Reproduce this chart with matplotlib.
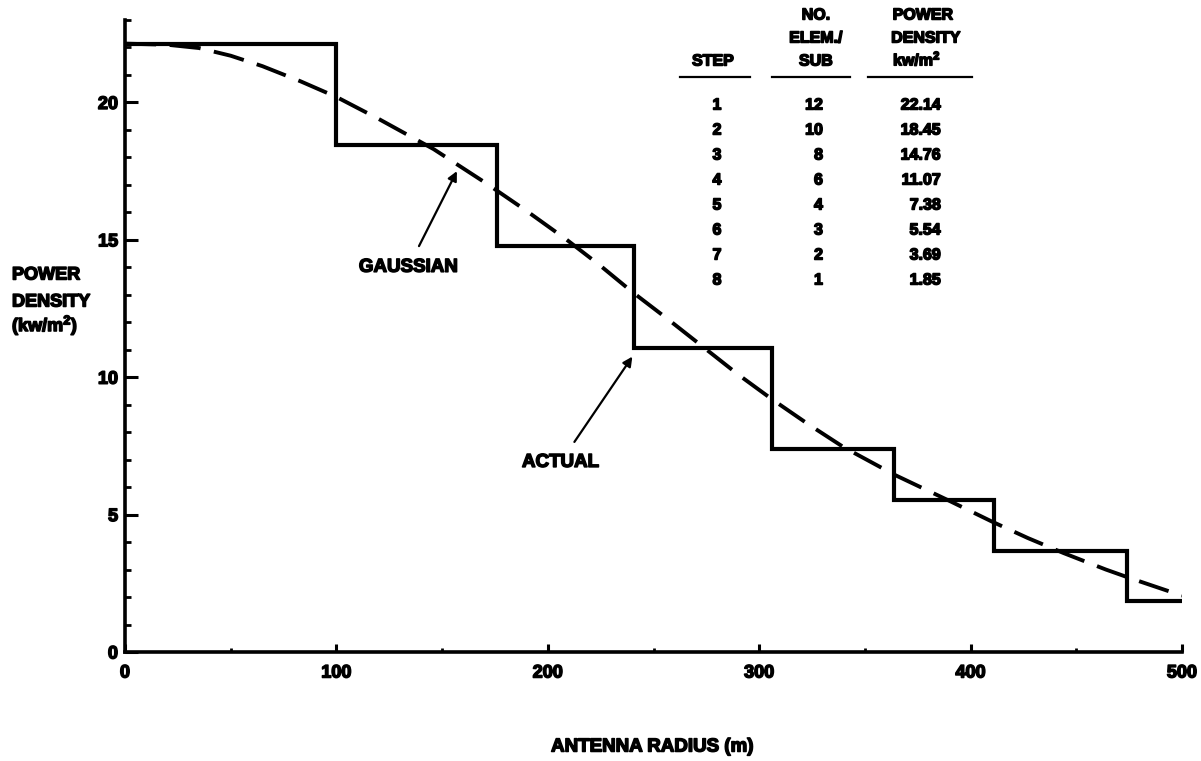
import matplotlib
matplotlib.use("Agg")
import matplotlib.pyplot as plt
import matplotlib.patheffects as pe
from matplotlib.text import Text
from matplotlib.ticker import MultipleLocator

# Stepped (actual) power-density profile across the antenna radius
step_ids = [1, 2, 3, 4, 5, 6, 7, 8]
elements_per_sub = [12, 10, 8, 6, 4, 3, 2, 1]
power_density = [22.14, 18.45, 14.76, 11.07, 7.38, 5.54, 3.69, 1.85]
step_edges = [0, 100, 176, 241, 306, 364, 411, 474, 500]

# Ideal Gaussian taper
gauss_radius = [0, 20, 35, 50, 65, 83, 100, 120, 146, 171, 190, 209, 225,
                240, 257, 274, 290, 306, 323, 340, 364, 390, 410, 427, 444,
                464, 475, 500]
gauss_density = [22.14, 22.1, 21.98, 21.7, 21.32, 20.77, 20.2, 19.4, 18.3,
                 17.05, 16.05, 15.0, 14.05, 13.1, 12.1, 11.07, 10.1, 9.2,
                 8.3, 7.45, 6.45, 5.5, 4.75, 4.15, 3.6, 3.0, 2.7, 2.05]

x_ticks = [0, 100, 200, 300, 400, 500]
x_tick_labels = ["0", "100", "200", "300", "400", "500"]
y_ticks = [0, 5, 10, 15, 20]

FONT = "Liberation Sans"
plt.rcParams["mathtext.fontset"] = "custom"
plt.rcParams["mathtext.rm"] = f"{FONT}:bold"
plt.rcParams["mathtext.bf"] = f"{FONT}:bold"
plt.rcParams["mathtext.it"] = f"{FONT}:bold"
plt.rcParams["mathtext.default"] = "rm"

W, H = 1201, 761

fig = plt.figure(figsize=(W / 100, H / 100), dpi=100)
ax = fig.add_axes([125 / W, 1 - 652 / H, (1182 - 125) / W, (652 - 20) / H])


def px(x, y):
    """Pixel position (from top-left) to figure fraction."""
    return x / W, 1 - y / H


ax.stairs(power_density, step_edges, baseline=None, color="black",
          linewidth=3.0, joinstyle="miter")
ax.plot(gauss_radius, gauss_density, color="black", linewidth=2.8,
        dashes=(8, 3.5), dash_capstyle="butt", solid_joinstyle="round")

ax.set_xlim(0, 500)
ax.set_ylim(0, 23)

for side in ("top", "right"):
    ax.spines[side].set_visible(False)
for side in ("left", "bottom"):
    ax.spines[side].set_linewidth(2.6)

ax.set_xticks(x_ticks)
ax.set_xticklabels(x_tick_labels)
ax.set_yticks(y_ticks)
ax.xaxis.set_minor_locator(MultipleLocator(50))
ax.yaxis.set_minor_locator(MultipleLocator(1))
ax.tick_params(axis="both", which="both", direction="in", color="black")
ax.tick_params(axis="y", which="major", length=9, width=2.2, pad=5)
ax.tick_params(axis="y", which="minor", length=4.5, width=2.0)
ax.tick_params(axis="x", which="major", length=5.5, width=2.2, pad=9)
ax.tick_params(axis="x", which="minor", length=3, width=2.0)
for lbl in ax.get_xticklabels() + ax.get_yticklabels():
    lbl.set_fontfamily(FONT)
    lbl.set_fontweight("bold")
    lbl.set_fontsize(13)

# Curve call-outs
ax.annotate("GAUSSIAN", xy=(157, 17.5), xytext=(134, 14.0),
            ha="center", va="center", fontsize=13.5, fontweight="bold",
            fontfamily=FONT,
            arrowprops=dict(arrowstyle="-|>", color="black", lw=1.6,
                            mutation_scale=14, shrinkA=8, shrinkB=0))
ax.annotate("ACTUAL", xy=(240, 10.75), xytext=(206, 6.9),
            ha="center", va="center", fontsize=13.5, fontweight="bold",
            fontfamily=FONT,
            arrowprops=dict(arrowstyle="-|>", color="black", lw=1.6,
                            mutation_scale=14, shrinkA=8, shrinkB=0))

# Axis titles
txt = dict(fontfamily=FONT, fontweight="bold", color="black")
fig.text(*px(652, 747), "ANTENNA RADIUS (m)", ha="center", va="center",
         fontsize=13.5, **txt)
fig.text(*px(12, 275), "POWER", ha="left", va="center", fontsize=13, **txt)
fig.text(*px(12, 302), "DENSITY", ha="left", va="center", fontsize=13, **txt)
fig.text(*px(12, 325), r"(kw/m$^{2}$)", ha="left", va="center", fontsize=13, **txt)

# Step table
head = dict(ha="center", va="center", fontsize=11.5, **txt)
fig.text(*px(713, 61), "STEP", **head)
fig.text(*px(816, 15), "NO.", **head)
fig.text(*px(816, 38), "ELEM./", **head)
fig.text(*px(816, 61), "SUB", **head)
fig.text(*px(923, 15), "POWER", **head)
fig.text(*px(926, 38), "DENSITY", **head)
fig.text(*px(917, 59), r"kw/m$^{2}$", **head)

for x0, x1 in ((680, 750), (772, 850), (868, 972)):
    fig.add_artist(plt.Line2D([x0 / W, x1 / W], [1 - 77 / H, 1 - 77 / H],
                              color="black", linewidth=1.6))

row_y0, row_dy = 105, 25
for i, (s, n, p) in enumerate(zip(step_ids, elements_per_sub, power_density)):
    y = row_y0 + i * row_dy
    fig.text(*px(717, y), f"{s}", ha="center", va="center", fontsize=11.5, **txt)
    fig.text(*px(823, y), f"{n}", ha="right", va="center", fontsize=11.5, **txt)
    fig.text(*px(941, y), f"{p:.2f}", ha="right", va="center", fontsize=11.5, **txt)

# Heavy, ink-spread lettering
for t in fig.findobj(Text):
    if t.get_text():
        t.set_path_effects([pe.withStroke(linewidth=1.1, foreground="black")])

fig.savefig("out.png", dpi=100, facecolor="white")
